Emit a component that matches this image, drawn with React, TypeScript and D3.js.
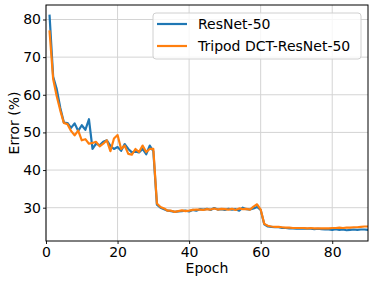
import React, { useEffect, useRef } from 'react'
import * as d3 from 'd3'

// error (%) per epoch
const epochs = d3.range(1, 91)
const resnet = [
  81.0, 64.8, 61.5, 56.5, 52.6, 52.5, 51.2, 52.4, 50.4, 51.9,
  50.7, 53.5, 45.6, 47.0, 46.6, 47.5, 47.9, 46.4, 45.6, 46.1,
  45.1, 46.9, 45.6, 44.7, 44.9, 44.7, 45.6, 44.2, 46.5, 45.0,
  30.8, 30.0, 29.6, 29.2, 29.1, 28.9, 29.0, 29.1, 29.2, 29.0,
  29.4, 29.2, 29.6, 29.5, 29.7, 29.4, 29.9, 29.5, 29.6, 29.4,
  29.7, 29.5, 29.6, 29.2, 30.0, 29.6, 29.5, 29.8, 30.2, 29.4,
  25.6, 25.0, 24.9, 24.8, 24.8, 24.6, 24.6, 24.5, 24.5, 24.4,
  24.4, 24.5, 24.4, 24.4, 24.3, 24.4, 24.3, 24.2, 24.2, 24.1,
  24.3, 24.1, 24.2, 24.0, 24.1, 24.2, 24.1, 24.2, 24.2, 24.1,
]
const tripod = [
  76.8, 64.2, 59.6, 55.8, 52.5, 52.2, 50.4, 49.2, 50.5, 47.9,
  48.2, 47.0, 47.2, 47.5, 46.3, 47.0, 47.9, 45.0, 48.4, 49.3,
  45.6, 46.5, 44.3, 44.1, 45.6, 44.8, 46.5, 44.8, 45.6, 45.6,
  31.1, 30.2, 29.8, 29.2, 29.2, 28.9, 29.1, 29.3, 29.1, 29.2,
  29.4, 29.5, 29.5, 29.4, 29.6, 29.5, 29.8, 29.5, 29.7, 29.6,
  29.5, 29.7, 29.4, 29.8, 29.6, 29.7, 29.5, 30.3, 30.9, 29.5,
  25.7, 25.2, 25.0, 24.9, 24.9, 24.8, 24.7, 24.7, 24.6, 24.6,
  24.6, 24.6, 24.5, 24.6, 24.5, 24.5, 24.5, 24.5, 24.5, 24.6,
  24.6, 24.7, 24.6, 24.7, 24.7, 24.8, 24.8, 24.9, 25.0, 25.0,
]
const seriesNames = ['ResNet-50', 'Tripod DCT-ResNet-50']
const seriesColors = ['#1f77b4', '#ff7f0e']
const xTicks = [0, 20, 40, 60, 80]
const yTicks = [30, 40, 50, 60, 70, 80]

const W = 374
const H = 283
const font = 'DejaVu Sans, sans-serif'

function App() {
  const ref = useRef<SVGSVGElement>(null)

  useEffect(() => {
    const margin = { top: 5, right: 6, bottom: 42, left: 46 }
    const width = W - margin.left - margin.right
    const height = H - margin.top - margin.bottom

    const svg = d3.select(ref.current)
    svg.selectAll('*').remove()

    const g = svg.append('g')
      .attr('transform', 'translate(' + margin.left + ',' + margin.top + ')')

    const x = d3.scaleLinear().domain([0, 90]).range([0, width])
    const all = resnet.concat(tripod)
    const lo = d3.min(all)!, hi = d3.max(all)!
    const pad = (hi - lo) * 0.05
    const y = d3.scaleLinear().domain([lo - pad, hi + pad]).range([height, 0])

    // grid
    g.append('g').selectAll('line').data(xTicks).enter().append('line')
      .attr('x1', d => x(d)).attr('x2', d => x(d))
      .attr('y1', 0).attr('y2', height)
      .attr('stroke', '#d4d4d4').attr('stroke-width', 1)
    g.append('g').selectAll('line').data(yTicks).enter().append('line')
      .attr('y1', d => y(d)).attr('y2', d => y(d))
      .attr('x1', 0).attr('x2', width)
      .attr('stroke', '#d4d4d4').attr('stroke-width', 1)

    svg.append('defs').append('clipPath').attr('id', 'clip')
      .append('rect').attr('width', width).attr('height', height)

    const line = d3.line<number>()
      .x((_, i) => x(epochs[i]))
      .y(d => y(d))

    const lines = g.append('g').attr('clip-path', 'url(#clip)')
    ;[resnet, tripod].forEach((s, i) => {
      lines.append('path')
        .attr('d', line(s))
        .attr('fill', 'none')
        .attr('stroke', seriesColors[i])
        .attr('stroke-width', 2.2)
        .attr('stroke-linejoin', 'round')
        .attr('stroke-linecap', 'square')
    })

    // axes
    const xAxis = d3.axisBottom(x).tickValues(xTicks).tickSize(3).tickPadding(3)
    const yAxis = d3.axisLeft(y).tickValues(yTicks).tickSize(3).tickPadding(2)

    const gx = g.append('g').attr('transform', 'translate(0,' + height + ')').call(xAxis)
    const gy = g.append('g').call(yAxis)
    ;[gx, gy].forEach(a => {
      a.select('.domain').remove()
      a.selectAll('text').attr('font-family', font).attr('font-size', 14).attr('fill', '#000')
      a.selectAll('line').attr('stroke', '#000').attr('stroke-width', 0.9)
    })

    g.append('rect')
      .attr('width', width).attr('height', height)
      .attr('fill', 'none').attr('stroke', '#000').attr('stroke-width', 1)

    g.append('text')
      .attr('x', width / 2).attr('y', height + 32)
      .attr('text-anchor', 'middle')
      .attr('font-family', font).attr('font-size', 14)
      .text('Epoch')

    svg.append('text')
      .attr('transform', 'translate(19,' + (margin.top + height / 2) + ') rotate(-90)')
      .attr('text-anchor', 'middle')
      .attr('font-family', font).attr('font-size', 14)
      .text('Error (%)')

    // legend
    const leg = svg.append('g').attr('transform', 'translate(153,13)')
    leg.append('rect')
      .attr('width', 208).attr('height', 46).attr('rx', 3)
      .attr('fill', '#fff').attr('fill-opacity', 0.8)
      .attr('stroke', '#d0d0d0').attr('stroke-width', 1)
    seriesNames.forEach((name, i) => {
      const cy = 11 + i * 22
      leg.append('line')
        .attr('x1', 4).attr('x2', 34).attr('y1', cy).attr('y2', cy)
        .attr('stroke', seriesColors[i]).attr('stroke-width', 2.2)
      leg.append('text')
        .attr('x', 45).attr('y', cy + 5)
        .attr('font-family', font).attr('font-size', 14)
        .text(name)
    })
  }, [])

  return (
    <svg ref={ref} width={W} height={H}
      style={{ position: 'absolute', left: 0, top: 0, background: '#fff' }} />
  )
}

export default App
